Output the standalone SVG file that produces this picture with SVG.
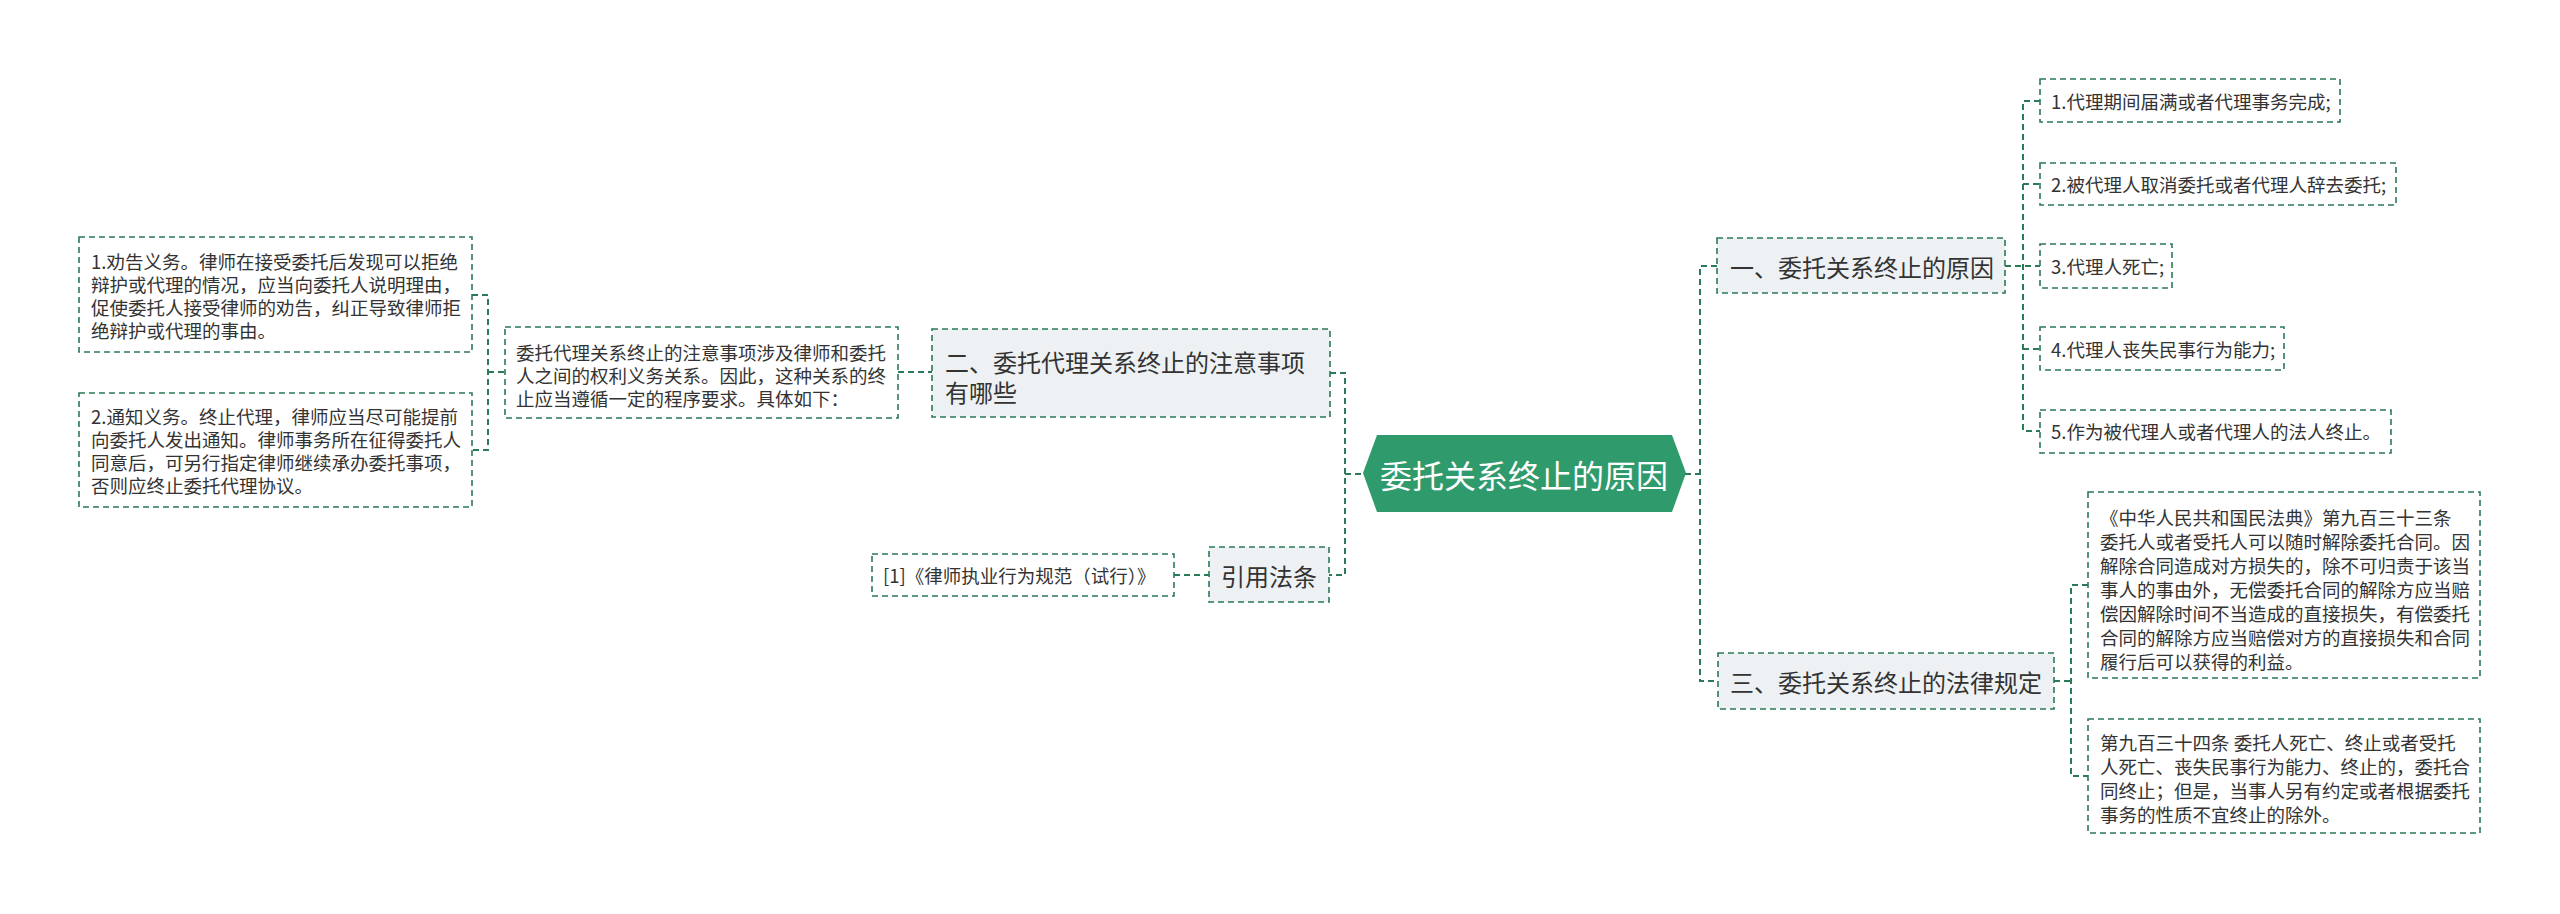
<svg xmlns="http://www.w3.org/2000/svg" width="2560" height="914" viewBox="0 0 2560 914">
<style>
text{font-family:"Noto Sans CJK SC","Liberation Sans",sans-serif;fill:#333;dominant-baseline:central}
.box{fill:#fff;stroke:#2b7a57;stroke-width:1.6;stroke-dasharray:6 4}
.sub{fill:#eef1f4;stroke:#2b7a57;stroke-width:1.6;stroke-dasharray:6 4}
.c{fill:none;stroke:#2b7a57;stroke-width:2;stroke-dasharray:6 4}
.s{font-size:18.5px}
.m{font-size:24px}
</style>
<rect width="2560" height="914" fill="#fff"/>
<g id="connectors">
<path class="c" d="M472 295H488V450H472M488 372H505"/>
<path class="c" d="M898 372H932"/>
<path class="c" d="M1330 373H1345V575H1329M1345 474H1363"/>
<path class="c" d="M1174 575H1209"/>
<path class="c" d="M1685 474H1700M1717 266H1700V681H1718"/>
<path class="c" d="M2005 266H2040M2040 101H2023V431H2040M2023 184H2040M2023 349H2040"/>
<path class="c" d="M2054 681H2071M2088 585H2071V776H2088"/>
</g>
<g id="root">
<polygon points="1363,473 1377,435 1672,435 1686,473 1672,512 1377,512" fill="#2f9a6b"/>
<text x="1524" y="474" text-anchor="middle" style="font-size:32px;fill:#fff">委托关系终止的原因</text>
</g>
<g id="n2">
<rect class="sub" x="932" y="329" width="398" height="88"/>
<text class="m" x="945" y="361">二、委托代理关系终止的注意事项</text>
<text class="m" x="945" y="391">有哪些</text>
</g>
<g id="n2-intro">
<rect class="box" x="505" y="327" width="393" height="91"/>
<text class="s" x="516" y="352">委托代理关系终止的注意事项涉及律师和委托</text>
<text class="s" x="516" y="375">人之间的权利义务关系。因此，这种关系的终</text>
<text class="s" x="516" y="398">止应当遵循一定的程序要求。具体如下：</text>
</g>
<g id="n2-1">
<rect class="box" x="79" y="237" width="393" height="115"/>
<text class="s" x="91" y="261">1.劝告义务。律师在接受委托后发现可以拒绝</text>
<text class="s" x="91" y="284">辩护或代理的情况，应当向委托人说明理由，</text>
<text class="s" x="91" y="307">促使委托人接受律师的劝告，纠正导致律师拒</text>
<text class="s" x="91" y="330">绝辩护或代理的事由。</text>
</g>
<g id="n2-2">
<rect class="box" x="79" y="393" width="393" height="114"/>
<text class="s" x="91" y="416">2.通知义务。终止代理，律师应当尽可能提前</text>
<text class="s" x="91" y="439">向委托人发出通知。律师事务所在征得委托人</text>
<text class="s" x="91" y="462">同意后，可另行指定律师继续承办委托事项，</text>
<text class="s" x="91" y="485">否则应终止委托代理协议。</text>
</g>
<g id="ref">
<rect class="sub" x="1209" y="547" width="120" height="55"/>
<text class="m" x="1269" y="575" text-anchor="middle">引用法条</text>
</g>
<g id="ref-1">
<rect class="box" x="872" y="554" width="302" height="42"/>
<text class="s" x="883" y="575">[1]《律师执业行为规范（试行）》</text>
</g>
<g id="n1">
<rect class="sub" x="1717" y="238" width="288" height="55"/>
<text class="m" x="1730" y="266">一、委托关系终止的原因</text>
</g>
<g id="n1-1">
<rect class="box" x="2040" y="79" width="300" height="43"/>
<text class="s" x="2051" y="101">1.代理期间届满或者代理事务完成;</text>
</g>
<g id="n1-2">
<rect class="box" x="2040" y="163" width="356" height="42"/>
<text class="s" x="2051" y="184">2.被代理人取消委托或者代理人辞去委托;</text>
</g>
<g id="n1-3">
<rect class="box" x="2040" y="244" width="132" height="44"/>
<text class="s" x="2051" y="266">3.代理人死亡;</text>
</g>
<g id="n1-4">
<rect class="box" x="2040" y="327" width="244" height="43"/>
<text class="s" x="2051" y="349">4.代理人丧失民事行为能力;</text>
</g>
<g id="n1-5">
<rect class="box" x="2040" y="410" width="351" height="43"/>
<text class="s" x="2051" y="431">5.作为被代理人或者代理人的法人终止。</text>
</g>
<g id="n3">
<rect class="sub" x="1718" y="653" width="336" height="56"/>
<text class="m" x="1730" y="681">三、委托关系终止的法律规定</text>
</g>
<g id="n3-1">
<rect class="box" x="2088" y="492" width="392" height="186"/>
<text class="s" x="2100" y="517">《中华人民共和国民法典》第九百三十三条</text>
<text class="s" x="2100" y="541">委托人或者受托人可以随时解除委托合同。因</text>
<text class="s" x="2100" y="565">解除合同造成对方损失的，除不可归责于该当</text>
<text class="s" x="2100" y="589">事人的事由外，无偿委托合同的解除方应当赔</text>
<text class="s" x="2100" y="613">偿因解除时间不当造成的直接损失，有偿委托</text>
<text class="s" x="2100" y="637">合同的解除方应当赔偿对方的直接损失和合同</text>
<text class="s" x="2100" y="661">履行后可以获得的利益。</text>
</g>
<g id="n3-2">
<rect class="box" x="2088" y="719" width="392" height="114"/>
<text class="s" x="2100" y="742">第九百三十四条 委托人死亡、终止或者受托</text>
<text class="s" x="2100" y="766">人死亡、丧失民事行为能力、终止的，委托合</text>
<text class="s" x="2100" y="790">同终止；但是，当事人另有约定或者根据委托</text>
<text class="s" x="2100" y="814">事务的性质不宜终止的除外。</text>
</g>
</svg>
